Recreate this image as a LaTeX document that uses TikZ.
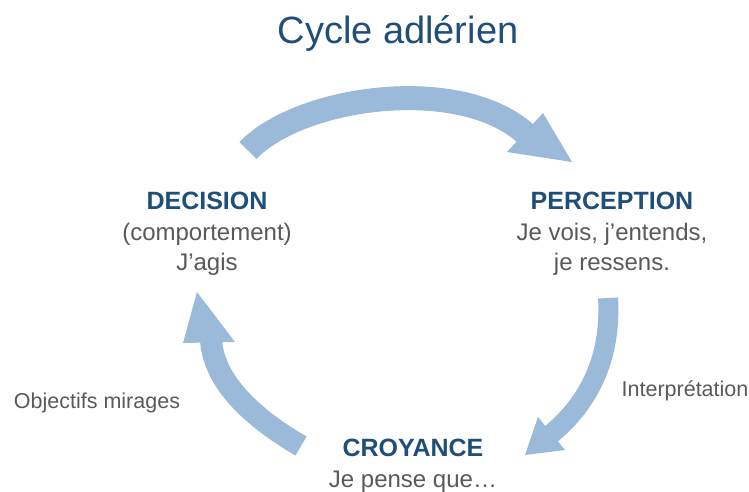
\documentclass[tikz,border=0pt]{standalone}
\usepackage{fontspec}
\setmainfont{Liberation Sans}
\definecolor{titleblue}{RGB}{31,78,121}
\definecolor{textgray}{RGB}{89,89,89}
\definecolor{arrowblue}{RGB}{155,185,217}
\begin{document}
\begin{tikzpicture}[x=1pt,y=-1pt,
  titletext/.style={font=\fontsize{38}{44}\selectfont, text=titleblue, anchor=base, inner sep=0pt},
  headtext/.style={font=\bfseries\fontsize{25}{30}\selectfont, text=titleblue, anchor=base, inner sep=0pt},
  bodytext/.style={font=\fontsize{24}{30}\selectfont, text=textgray, anchor=base, inner sep=0pt},
  sidetext/.style={font=\fontsize{21.5}{26}\selectfont, text=textgray, anchor=base, inner sep=0pt},
  shaft/.style={draw=arrowblue, line cap=butt},
  arrowhead/.style={fill=arrowblue, draw=none}]
\useasboundingbox (0,0) rectangle (749,491);

% texts
\node[titletext] (title) at (398,43) {Cycle adlérien};
\node[headtext] (dec) at (207,209) {DECISION};
\node[bodytext] (dec2) at (207,240) {(comportement)};
\node[bodytext] (dec3) at (207,270) {J’agis};
\node[headtext] (per) at (612,209) {PERCEPTION};
\node[bodytext] (per2) at (612,240) {Je vois, j’entends,};
\node[bodytext] (per3) at (612,270) {je ressens.};
\node[headtext] (cro) at (413,456) {CROYANCE};
\node[bodytext] (cro2) at (413,487) {Je pense que…};
\node[sidetext] (obj) at (97,408) {Objectifs mirages};
\node[sidetext] (int) at (685,396) {Interprétation};

% top arrow: decision -> perception
\coordinate (a1s) at (248,150.5);
\coordinate (a1e) at (526,134);
\draw[shaft, line width=24pt] (a1s) .. controls (300,96) and (460,74) .. (a1e);
\fill[arrowhead] (543,113) -- (572,162) -- (507,152) -- cycle;

% right arrow: perception -> croyance
\coordinate (a2s) at (608,298);
\coordinate (a2e) at (550,435);
\draw[shaft, line width=20pt] (a2s) .. controls (612,365) and (583,408) .. (a2e);
\fill[arrowhead] (538,417) -- (525,455) -- (565,450) -- cycle;

% left arrow: croyance -> decision
\coordinate (a3s) at (301,446);
\coordinate (a3e) at (211,340);
\draw[shaft, line width=22pt] (a3s) .. controls (258,421) and (214,385) .. (a3e);
\fill[arrowhead] (183,343) -- (197,292) -- (235,342) -- cycle;
\end{tikzpicture}
\end{document}
